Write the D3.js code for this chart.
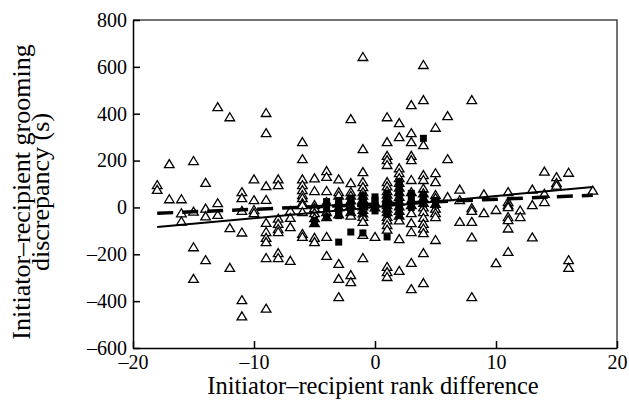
<!DOCTYPE html>
<html>
<head>
<meta charset="utf-8">
<script src="https://cdn.jsdelivr.net/npm/d3@7"></script>
<style>
  body { margin: 0; background: #fff; }
  svg text { font-family: "Liberation Serif", "Times New Roman", serif; fill: #000; }
  .axis path, .axis line { stroke: #000; stroke-width: 1.5; }
</style>
</head>
<body>
<div class="chart"></div>
<script>

//////////
// DATA //
//////////

// rank differences that carry triangle points
var triRanks = [-18, -17, -16, -15, -14, -13, -12, -11, -10, -9, -8, -7, -6, -5, -4, -3, -2, -1,
    0, 1, 2, 3, 4, 5, 6, 7, 8, 9, 10, 11, 12, 13, 14, 15, 16, 18];

// grooming discrepancy (s) for each rank above
var triValues = [
    [95, 75],
    [185, 35],
    [35, -25, -60],
    [198, -18, -170, -305],
    [105, -5, -38, -225],
    [428, 18, -32],
    [385, -88, -258],
    [65, 40, -15, -107, -396, -465],
    [120, 31, -11, -24],
    [403, 317, 91, 32, -66, -105, -130, -148, -216, -432],
    [120, 95, -48, -70, -92, -105, -195, -216],
    [-15, -45, -84, -228],
    [279, 206, 120, 95, 74, 53, 40, 19, 10, -20, -113, -126],
    [124, 70, 10, -3, -24, -46, -67, -130, -148],
    [155, 130, 70, 23, -20, -41, -126, -207],
    [120, 65, 50, 20, 0, -30, -241, -305, -383],
    [377, 104, 65, 50, 30, 10, -20, -35, -289, -319],
    [642, 249, 151, 108, 87, 65, 50, 35, 20, 5, -10, -25, -40, -62, -117, -216],
    [20, 0, -126],
    [385, 279, 220, 202, 181, 108, 90, 70, 55, 40, 25, 10, -5, -20, -40, -55, -75, -95, -254, -276, -297],
    [360, 300, 167, 146, 125, 105, 85, 65, 45, 25, 5, -15, -35, -55, -135, -271],
    [437, 317, 279, 220, 202, 117, 65, 30, 10, -24, -67, -105, -237, -349],
    [608, 458, 266, 138, 117, 80, 60, 40, 20, 0, -20, -45, -70, -90, -110, -195, -323],
    [340, 146, 108, 53, 40, 15, -5, -24, -41, -139],
    [390, 206, 44],
    [76, 31, -62],
    [458, -3, -15, -62, -128, -383],
    [56, -24],
    [-11, -238],
    [65, 23, 10, 1, -41, -54, -90, -190],
    [-13, -41],
    [76, 10, -128],
    [153, 58, 23],
    [129, 104, 93],
    [148, -225, -258],
    [72]
];

// filled squares (second series)
var sqRanks = [-5, -4, -3, -2, -1, 0, 1, 2, 3, 4, 5];
var sqValues = [
    [-55, -65],
    [25, -5, -40],
    [30, 15, 0, -15, -35, -148],
    [40, 25, 10, -5, -20, -105],
    [50, 35, 20, 5, -10, -25, -109],
    [45, 30, 15, 0, -15],
    [60, 40, 20, 0, -15, -30, -126],
    [110, 90, 70, 50, 30, 10, -10, -35],
    [60, 40, 20, 0],
    [295, 55, 35, 15],
    [30, 10]
];

// fitted lines (end points)
var solidFit = [[-18, -84], [18, 87]];
var dashedFit = [[-18, -25], [18, 52]];

var xTicks = [-20, -10, 0, 10, 20];
var yTicks = [-600, -400, -200, 0, 200, 400, 600, 800];

var xTitle = 'Initiator\u2013recipient rank difference';
var yTitle = ['Initiator\u2013recipient grooming', 'discrepancy (s)'];

////////////////
// DIMENSIONS //
////////////////

var w = 629,
    h = 407,
    padLeft = 133,
    padRight = 617,
    padTop = 20,
    padBottom = 348;

var svg = d3.select('.chart')
    .append('svg')
    .attr('width', w)
    .attr('height', h);

////////////
// SCALES //
////////////

var xScale = d3.scaleLinear()
    .domain([-20, 20])
    .range([padLeft, padRight]);

var yScale = d3.scaleLinear()
    .domain([-600, 800])
    .range([padBottom, padTop]);

var fmt = d3.formatLocale({ decimal: '.', thousands: ',', grouping: [3], currency: ['', ''], minus: '\u2013' }).format('d');

//////////
// AXES //
//////////

// frame (top + right)
svg.append('path')
    .attr('d', 'M' + padLeft + ',' + padTop + 'H' + padRight + 'V' + padBottom)
    .attr('fill', 'none')
    .attr('stroke', '#444')
    .attr('stroke-width', 1.5);

svg.append('g')
    .attr('class', 'axis')
    .attr('transform', 'translate(0,' + padBottom + ')')
    .call(d3.axisBottom(xScale).tickValues(xTicks).tickSize(-7).tickSizeOuter(0).tickPadding(7).tickFormat(fmt));

svg.append('g')
    .attr('class', 'axis')
    .attr('transform', 'translate(' + padLeft + ',0)')
    .call(d3.axisLeft(yScale).tickValues(yTicks).tickSize(-7).tickSizeOuter(0).tickPadding(6).tickFormat(fmt));

svg.selectAll('.axis text')
    .style('font-size', '20px')
    .style('font-family', '"Liberation Serif", serif');

////////////
// TITLES //
////////////

svg.append('text')
    .attr('x', (padLeft + padRight) / 2 - 2)
    .attr('y', 394)
    .attr('text-anchor', 'middle')
    .style('font-size', '24.5px')
    .text(xTitle);

svg.selectAll('.ytitle')
    .data(yTitle)
    .enter()
    .append('text')
    .attr('class', 'ytitle')
    .attr('transform', function(d, i) { return 'translate(' + (30 + i * 19) + ',192) rotate(-90)'; })
    .attr('text-anchor', 'middle')
    .style('font-size', '26px')
    .text(function(d) { return d; });

////////////
// POINTS //
////////////

var triPoints = [];
triRanks.forEach(function(r, i) {
    triValues[i].forEach(function(v) { triPoints.push({ x: r, y: v }); });
});

var sqPoints = [];
sqRanks.forEach(function(r, i) {
    sqValues[i].forEach(function(v) { sqPoints.push({ x: r, y: v }); });
});

svg.append('g').selectAll('.tri')
    .data(triPoints)
    .enter()
    .append('path')
    .attr('class', 'tri')
    .attr('d', 'M0,-4.5L4.8,3.5L-4.8,3.5Z')
    .attr('transform', function(d) { return 'translate(' + xScale(d.x) + ',' + yScale(d.y) + ')'; })
    .attr('fill', '#fff')
    .attr('stroke', '#000')
    .attr('stroke-width', 1.3);

svg.append('g').selectAll('.sq')
    .data(sqPoints)
    .enter()
    .append('rect')
    .attr('class', 'sq')
    .attr('x', function(d) { return xScale(d.x) - 3.5; })
    .attr('y', function(d) { return yScale(d.y) - 3.5; })
    .attr('width', 7)
    .attr('height', 7)
    .attr('fill', '#000');

///////////
// LINES //
///////////

var line = d3.line()
    .x(function(d) { return xScale(d[0]); })
    .y(function(d) { return yScale(d[1]); });

svg.append('path')
    .datum(solidFit)
    .attr('d', line)
    .attr('fill', 'none')
    .attr('stroke', '#000')
    .attr('stroke-width', 2);

svg.append('path')
    .datum(dashedFit)
    .attr('d', line)
    .attr('fill', 'none')
    .attr('stroke', '#000')
    .attr('stroke-width', 3.5)
    .attr('stroke-dasharray', '16,9');

</script>
</body>
</html>
